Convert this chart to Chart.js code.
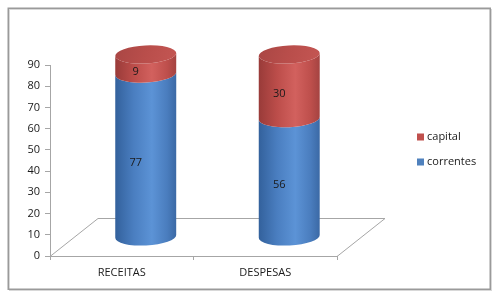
<!DOCTYPE html>
<html>
<head>
<meta charset="utf-8">
<script src="https://cdn.jsdelivr.net/npm/chart.js@4/dist/chart.umd.min.js"></script>
<style>
  html, body { margin: 0; padding: 0; background: #ffffff; }
  #wrap { width: 500px; height: 300px; }
</style>
</head>
<body>
<div id="wrap"><canvas id="c" width="500" height="300"></canvas></div>
<script>
// ---- data ----
const categories = ['RECEITAS', 'DESPESAS'];
const correntes = [77, 56];
const capital = [9, 30];
const seriesNames = ['correntes', 'capital'];
const yMin = 0;
const yMax = 90;
const yStep = 10;

// ---- styles ----
const FONT = '"Open Sans", "DejaVu Sans", sans-serif';
const DEPTH_X = 48, DEPTH_Y = 38;
const ROT = -0.05;
const palettes = [
  { base: '#4F81BD', stops: ['#33619C', '#4A7EC0', '#5C93D6', '#4A7DBE', '#3B69A5'] },
  { base: '#C0504D', stops: ['#993B39', '#BC4D4A', '#D2615E', '#BE4F4C', '#A44341'] }
];

function cylGradient(ctx, x0, x1, stops) {
  const g = ctx.createLinearGradient(x0, 0, x1, 0);
  const pos = [0, 0.3, 0.6, 0.85, 1];
  stops.forEach((c, i) => g.addColorStop(pos[i], c));
  return g;
}

function band(ctx, cx, rx, ry, yTop, yBot, fill) {
  ctx.beginPath();
  ctx.moveTo(cx - rx, yTop);
  ctx.lineTo(cx - rx, yBot);
  ctx.ellipse(cx, yBot, rx, ry, ROT, Math.PI, 0, true);
  ctx.lineTo(cx + rx, yTop);
  ctx.ellipse(cx, yTop, rx, ry, ROT, 0, Math.PI, false);
  ctx.closePath();
  ctx.fillStyle = fill;
  ctx.fill();
}

const framePlugin = {
  id: 'frame',
  beforeDraw(chart) {
    const ctx = chart.ctx;
    ctx.save();
    ctx.fillStyle = '#ffffff';
    ctx.fillRect(0, 0, chart.width, chart.height);
    ctx.strokeStyle = '#d8d8d8';
    ctx.lineWidth = 1;
    ctx.strokeRect(9.5, 9.5, 482, 281);
    ctx.strokeStyle = '#9a9a9a';
    ctx.lineWidth = 1.5;
    ctx.strokeRect(8.25, 8.25, 482, 281);
    ctx.restore();
  },
  beforeDatasetsDraw(chart) {
    const ctx = chart.ctx;
    const a = chart.chartArea;
    const yb = chart.scales.y.getPixelForValue(yMin);
    ctx.save();
    ctx.strokeStyle = '#a6a6a6';
    ctx.lineWidth = 1;
    ctx.beginPath();
    ctx.moveTo(a.left, yb + 0.5);
    ctx.lineTo(a.left + DEPTH_X, yb - DEPTH_Y + 0.5);
    ctx.lineTo(a.right + DEPTH_X, yb - DEPTH_Y + 0.5);
    ctx.lineTo(a.right, yb + 0.5);
    ctx.stroke();
    ctx.restore();
  },
  afterDatasetsDraw(chart) {
    const ctx = chart.ctx;
    const dx = DEPTH_X / 2, dy = -DEPTH_Y / 2;
    const n = chart.data.labels.length;
    const nds = chart.data.datasets.length;
    ctx.save();
    for (let i = 0; i < n; i++) {
      let topY = null, cx = 0, rx = 0;
      const ry = 9;
      for (let d = 0; d < nds; d++) {
        const el = chart.getDatasetMeta(d).data[i];
        const p = el.getProps(['x', 'y', 'base', 'width'], true);
        cx = p.x + dx; rx = p.width / 2;
        const x0 = cx - rx, x1 = cx + rx;
        band(ctx, cx, rx, ry, p.y + dy, p.base + dy, cylGradient(ctx, x0, x1, palettes[d].stops));
        topY = p.y + dy;
      }
      // top cap
      const g = ctx.createLinearGradient(cx - rx, topY - ry, cx + rx, topY + ry);
      g.addColorStop(0, '#A94644');
      g.addColorStop(0.5, '#B94E4B');
      g.addColorStop(1, '#C45653');
      ctx.beginPath();
      ctx.ellipse(cx, topY, rx, ry, ROT, 0, Math.PI * 2);
      ctx.fillStyle = g;
      ctx.fill();
      // labels
      ctx.fillStyle = '#1a1a1a';
      ctx.font = '11px ' + FONT;
      ctx.textAlign = 'center';
      ctx.textBaseline = 'middle';
      for (let d = 0; d < nds; d++) {
        const el = chart.getDatasetMeta(d).data[i];
        const p = el.getProps(['x', 'y', 'base'], true);
        const v = chart.data.datasets[d].data[i];
        ctx.fillText(String(v), p.x + 14, (p.y + p.base) / 2 - 11);
      }
    }
    ctx.restore();
  },
  afterDraw(chart) {
    const ctx = chart.ctx;
    ctx.save();
    ctx.font = '11px ' + FONT;
    ctx.textAlign = 'left';
    ctx.textBaseline = 'middle';
    const items = chart.data.datasets.map((ds, k) => ({ label: ds.label, color: ds.legendColor })).reverse();
    items.forEach((it, k) => {
      const y = 137 + k * 25;
      ctx.fillStyle = it.color;
      ctx.fillRect(417, y - 3.5, 7, 7);
      ctx.fillStyle = '#1a1a1a';
      ctx.fillText(it.label, 427, y);
    });
    ctx.restore();
  }
};

new Chart(document.getElementById('c'), {
  type: 'bar',
  data: {
    labels: categories,
    datasets: [
      { label: seriesNames[0], data: correntes, backgroundColor: 'rgba(0,0,0,0)', legendColor: palettes[0].base, borderWidth: 0 },
      { label: seriesNames[1], data: capital, backgroundColor: 'rgba(0,0,0,0)', legendColor: palettes[1].base, borderWidth: 0 }
    ]
  },
  options: {
    responsive: false,
    animation: false,
    events: [],
    categoryPercentage: 1,
    barPercentage: 0.425,
    layout: { padding: { left: 0, top: 65, right: 163, bottom: 0 } },
    plugins: { legend: { display: false }, tooltip: { enabled: false } },
    scales: {
      x: {
        stacked: true,
        afterFit(s) { s.height = 44; },
        grid: { drawOnChartArea: false, drawTicks: true, tickLength: 4, color: '#a6a6a6', offset: true },
        border: { display: true, color: '#a6a6a6' },
        ticks: { padding: 6, color: '#1a1a1a', font: { family: FONT, size: 11 } }
      },
      y: {
        stacked: true,
        min: yMin, max: yMax,
        afterFit(s) { s.width = 50; },
        grid: { drawOnChartArea: false, drawTicks: true, tickLength: 5, color: '#a6a6a6' },
        border: { display: true, color: '#a6a6a6' },
        ticks: { stepSize: yStep, padding: 5, color: '#1a1a1a', font: { family: FONT, size: 11 } }
      }
    }
  },
  plugins: [framePlugin]
});
</script>
</body>
</html>
